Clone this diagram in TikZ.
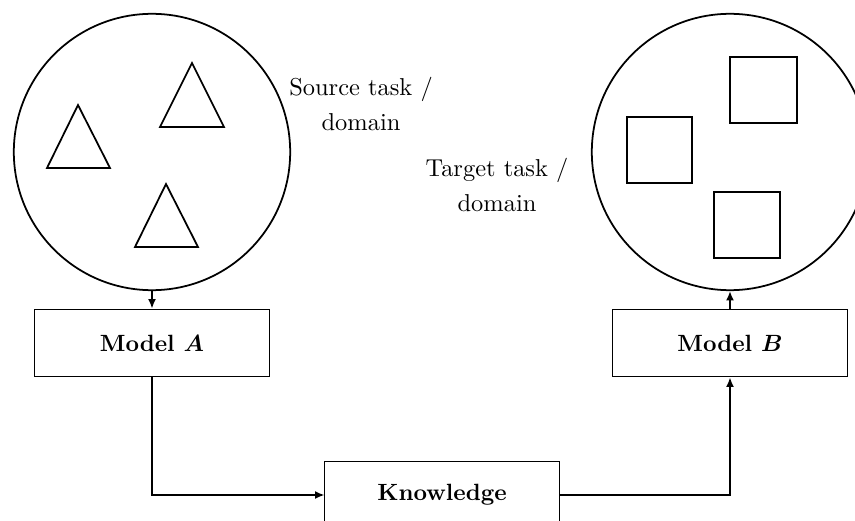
\documentclass[tikz,border=0pt]{standalone}
\usepackage{bm}
\usetikzlibrary{arrows.meta}
\begin{document}
\begin{tikzpicture}[x=0.4255pt,y=-0.4255pt,
  domaincirc/.style={draw,line width=0.75pt,circle,minimum size=117.6pt,inner sep=0pt},
  modelbox/.style={draw,line width=0.4pt,minimum width=99.6pt,minimum height=28.9pt,inner sep=0pt,font=\bfseries},
  flow/.style={line width=0.75pt,-{Latex[length=4pt,width=3.4pt]}},
  shapeline/.style={line width=0.75pt},
  lbl/.style={align=center,inner sep=0pt}]
\useasboundingbox (0,0) rectangle (855,521);
\clip (0,0) rectangle (855,521);
\node[domaincirc] (src) at (152,152) {};
\node[domaincirc] (tgt) at (730,152) {};
% triangles
\draw[shapeline] (78,105) -- (110,168) -- (47,168) -- cycle;
\draw[shapeline] (192,63) -- (224,127) -- (160,127) -- cycle;
\draw[shapeline] (166,184) -- (198,247) -- (135,247) -- cycle;
% squares
\draw[shapeline] (627,117) rectangle (692,183);
\draw[shapeline] (730,57) rectangle (797,123);
\draw[shapeline] (714,192) rectangle (780,258);
% labels
\node[lbl,font=\fontsize{10.4}{12.5}\selectfont] (srclbl) at (361,104) {Source task /\\[2pt]domain};
\node[lbl,font=\fontsize{10.4}{12.5}\selectfont] (tgtlbl) at (497,185) {Target task /\\[2pt]domain};
% boxes
\node[modelbox] (ma) at (152,343) {Model $\bm{A}$};
\node[modelbox] (mb) at (730,343) {Model $\bm{B}$};
\node[modelbox] (kn) at (442,495) {Knowledge};
% connectors
\draw[flow] (src.south) -- (ma.north);
\draw[flow] (ma.south) |- (kn.west);
\draw[flow] (kn.east) -| (mb.south);
\draw[flow] (mb.north) -- (tgt.south);
\end{tikzpicture}
\end{document}
